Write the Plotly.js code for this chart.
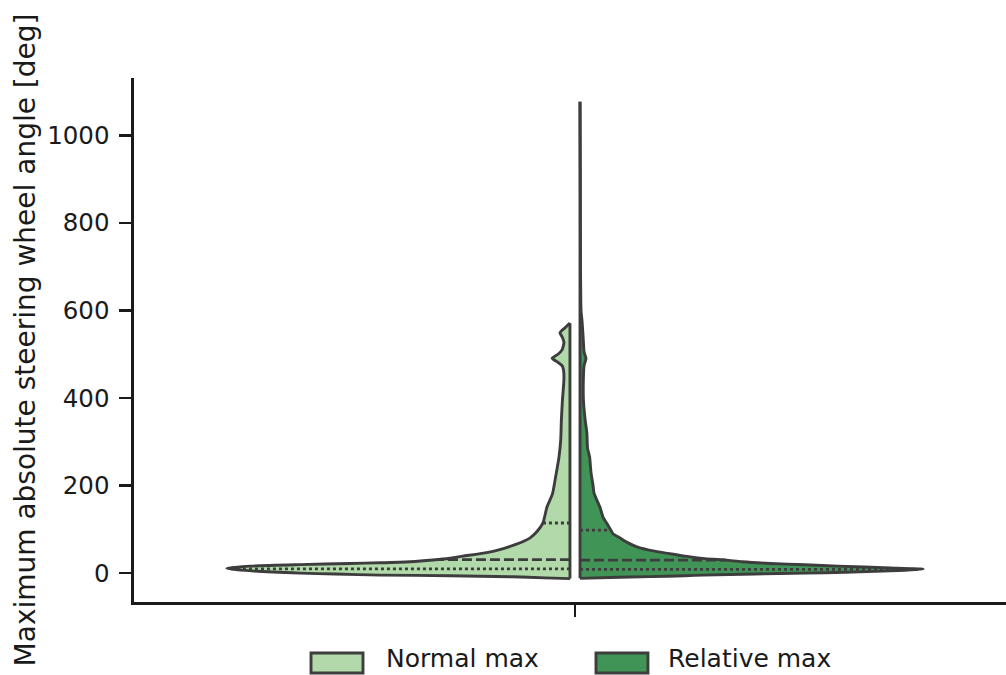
<!DOCTYPE html>
<html>
<head>
<meta charset="utf-8">
<script src="https://cdn.plot.ly/plotly-3.0.1.min.js"></script>
<style>html,body{margin:0;padding:0;background:#fff;}#chart{width:1006px;height:675px;}</style>
</head>
<body>
<div id="chart"></div>
<script>
// ---- data ----
const categories = ['Normal max', 'Relative max'];
const yTickValues = [0, 200, 400, 600, 800, 1000];
const yTitle = 'Maximum absolute steering wheel angle [deg]';

// Normal max: kernel density profile (relative density, peak = 100) vs angle [deg]
const normalAngles = [-12.5, -11, -8.4, -6, -4.5, -2, 0, 5, 10.5, 13, 16, 19.4, 22, 23.5, 26, 30, 34, 38.7, 45, 52, 65, 80, 95, 114, 151, 181, 219, 265, 303, 350, 394, 444, 465, 474, 483, 491, 500, 510, 527, 540, 549, 560, 571];
const normalDensity = [0, 7.3, 16.6, 35, 55.4, 68.5, 78.7, 92.7, 100, 97.7, 93.3, 78.7, 64.1, 55.4, 46.6, 39.9, 35, 31.2, 25.7, 21.3, 16, 11.7, 9.6, 7.9, 6.7, 5.1, 4.2, 3.2, 2.7, 2.5, 2.2, 1.75, 1.9, 2.3, 3.8, 5.2, 3.5, 2.3, 1.75, 2.3, 2.9, 1.5, 0];
const normalQuartiles = [9.8, 31, 114.5];

// Relative max
const relativeAngles = [-12, -10, -8, -6, -4.5, -2, 0, 2, 5, 9, 12, 16, 19, 22, 26, 29.6, 33, 38.7, 45, 50.8, 60, 68, 80, 90, 98, 114, 128, 151, 182, 200, 230, 265, 285, 320, 350, 394, 450, 475, 490, 505, 540, 575, 600, 700, 900, 1077];
const relativeDensity = [0, 8.7, 20.4, 30.6, 35.9, 51, 65.6, 77.3, 90.4, 100, 90.4, 75.2, 65.6, 55.4, 47.2, 42.6, 36.4, 30.6, 25.7, 21.3, 16.6, 14.3, 11.7, 9.6, 9, 7.8, 6.7, 5.8, 4.1, 3.8, 3.2, 2.8, 2.2, 2, 1.5, 1, 1, 1.2, 1.75, 1.2, 0.9, 0.6, 0.3, 0.15, 0.1, 0];
const relativeQuartiles = [8.4, 29.6, 98];

// ---- styling ----
const colors = ['#b2d9aa', '#409456'];
const edge = '#3d3d3d';
const textColor = '#1a1a1a';
const FONT = 'DejaVu Sans, sans-serif';
const halfWidth = 0.389;   // width of the densest point (category units)
const gap = 0.0057;        // gap between the two halves
const EW = 2.9;            // outline width

function interp(vals, dens, v) {
  for (let i = 0; i < vals.length - 1; i++) {
    if (v >= vals[i] && v <= vals[i + 1]) {
      const t = (v - vals[i]) / (vals[i + 1] - vals[i]);
      return dens[i] + t * (dens[i + 1] - dens[i]);
    }
  }
  return 0;
}

function halfViolin(name, vals, dens, sign, color) {
  const xs = [], ys = [];
  for (let i = 0; i < vals.length; i++) {
    xs.push(sign * (gap + halfWidth * dens[i] / 100));
    ys.push(vals[i]);
  }
  const body = {
    type: 'scatter', mode: 'lines', name: name, x: xs, y: ys,
    fill: 'toself', fillcolor: color,
    line: {color: edge, width: EW, shape: 'spline', smoothing: 0.6},
    hoverinfo: 'skip', showlegend: false
  };
  const flat = {
    type: 'scatter', mode: 'lines',
    x: [sign * gap, sign * gap], y: [vals[0], vals[vals.length - 1]],
    line: {color: edge, width: EW}, hoverinfo: 'skip', showlegend: false
  };
  return [body, flat];
}

function quartileLines(vals, dens, quarts, sign) {
  const out = [];
  quarts.forEach((q, i) => {
    const w = halfWidth * interp(vals, dens, q) / 100;
    out.push({
      type: 'scatter', mode: 'lines',
      x: [sign * gap, sign * (gap + w)], y: [q, q],
      line: {color: edge, width: 2.8, dash: i === 1 ? '10px,4px' : '3px,3px'},
      hoverinfo: 'skip', showlegend: false
    });
  });
  return out;
}

const traces = [
  ...halfViolin(categories[0], normalAngles, normalDensity, -1, colors[0]),
  ...halfViolin(categories[1], relativeAngles, relativeDensity, 1, colors[1]),
  ...quartileLines(normalAngles, normalDensity, normalQuartiles, -1),
  ...quartileLines(relativeAngles, relativeDensity, relativeQuartiles, 1)
];

// legend drawn as boxes + text below the axes
const legendShapes = [], legendAnn = [];
const legendX = [0.2030, 0.5298];
const legendTextX = [0.288, 0.6110];
categories.forEach((c, i) => {
  legendShapes.push({
    type: 'rect', xref: 'paper', yref: 'paper',
    x0: legendX[i], x1: legendX[i] + 0.0596, y0: -0.1355, y1: -0.0973,
    fillcolor: colors[i], line: {color: edge, width: EW}
  });
  legendAnn.push({
    xref: 'paper', yref: 'paper', x: legendTextX[i], y: -0.1380,
    xanchor: 'left', yanchor: 'bottom', showarrow: false, text: c,
    borderpad: 0,
    font: {family: FONT, size: 25, color: textColor}
  });
});

const layout = {
  width: 1006, height: 675,
  margin: {l: 134, r: 0, t: 78, b: 73},
  paper_bgcolor: '#ffffff', plot_bgcolor: '#ffffff',
  showlegend: false,
  font: {family: FONT, size: 24, color: textColor},
  xaxis: {
    range: [-0.5, 0.4887], showgrid: false, zeroline: false,
    showline: true, linecolor: textColor, linewidth: 2.6,
    ticks: 'outside', ticklen: 12, tickwidth: 2.6, tickcolor: textColor,
    tickvals: [0], ticktext: [''], fixedrange: true
  },
  yaxis: {
    range: [-66, 1131], showgrid: false, zeroline: false,
    showline: true, linecolor: textColor, linewidth: 2.6,
    ticks: 'outside', ticklen: 12, tickwidth: 2.6, tickcolor: textColor,
    tickvals: yTickValues, ticktext: yTickValues.map(String),
    tickfont: {family: FONT, size: 24.5, color: textColor},
    ticklabelstandoff: 5,
    title: {text: yTitle, font: {family: FONT, size: 28, color: textColor}, standoff: 4},
    fixedrange: true
  },
  shapes: legendShapes,
  annotations: legendAnn
};

Plotly.newPlot('chart', traces, layout, {displayModeBar: false, staticPlot: true});
</script>
</body>
</html>
